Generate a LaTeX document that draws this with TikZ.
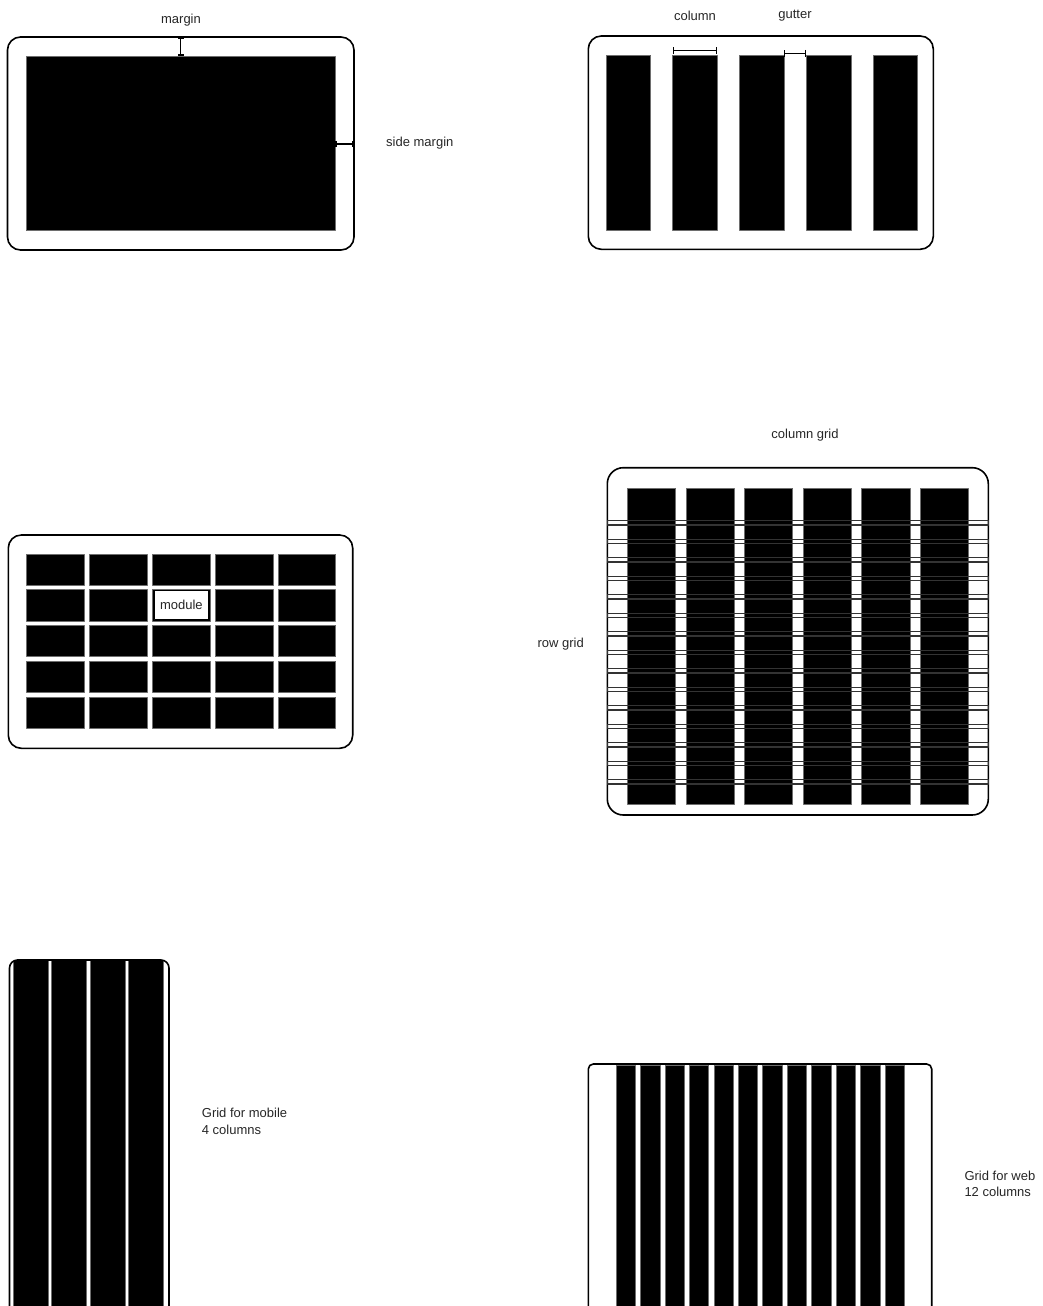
\documentclass[tikz,border=0pt]{standalone}
\usepackage{fontspec}
\setmainfont{Liberation Sans}
\usetikzlibrary{arrows.meta}
\definecolor{ink}{HTML}{262626}
\definecolor{rim}{HTML}{6e6e6e}
\definecolor{rowline}{HTML}{333333}

\begin{document}
\begin{tikzpicture}[
  x=1pt, y=-1pt,
  line join=round,
  every node/.style={font=\fontsize{13}{16.5}\selectfont, text=ink, inner sep=0pt},
  frame/.style={draw=black, line width=1.6pt},
  block/.style={fill=black, draw=rim, line width=0.5pt},
  rowgrid/.style={draw=rowline, line width=1.2pt},
  measure/.style={draw=black, line width=1.8pt, {Bar[width=6pt]}-{Bar[width=6pt]}},
  bracket/.style={draw=black, line width=1pt, {Bar[width=7pt]}-{Bar[width=7pt]}},
  cell/.style={fill=white, draw=black, line width=1.2pt, minimum width=54pt, minimum height=29pt},
  caption/.style={anchor=west, align=left},
]
\useasboundingbox (0,0) rectangle (1042,1306);
\clip (0,0) rectangle (1042,1306);

% margins
\draw[frame, rounded corners=13pt] (7.5,37) rectangle (354,250);
\fill[block] (26,56) rectangle (335.3,230.7);
\coordinate (mtop) at (180.5,37);
\coordinate (mbot) at (180.5,56);
\draw[measure] (mtop) -- (mbot);
\node (margin) at (181,20) {margin};
\coordinate (sin) at (335.3,144);
\coordinate (sout) at (354,144);
\draw[measure] (sin) -- (sout);
\node[anchor=west] (sidemargin) at (386,143) {side margin};

% columns and gutters
\draw[frame, rounded corners=13pt] (588.3,36) rectangle (933.3,249.3);
\foreach \i in {0,...,4}
  \fill[block] ({606+66.7*\i},55) rectangle ++(44.7,175);
\coordinate (cleft) at (672.7,50.7);
\coordinate (cright) at (717.3,50.7);
\draw[bracket] (cleft) -- (cright);
\coordinate (gleft) at (784,53.3);
\coordinate (gright) at (806,53.3);
\draw[bracket] (gleft) -- (gright);
\node (column) at (695,16) {column};
\node (gutter) at (795,16) {gutter};

% modules
\draw[frame, rounded corners=13pt] (8.3,535) rectangle (352.7,748.3);
\foreach \c in {0,...,4}
  \foreach \r in {0,...,4}
    \fill[block] ({26.7+62.9*\c},{554+35.7*\r}) rectangle ++(57.4,31.3);
\node[cell] (module) at (181.4,605) {module};

% column grid and row grid
\node (colgrid) at (805,435) {column grid};
\draw[frame, rounded corners=16pt] (607.3,467.7) rectangle (988.3,815);
\foreach \i in {0,...,5}
  \fill[block] ({627.3+58.54*\i},488.3) rectangle ++(48.3,315.7);
\foreach \k in {0,...,14}
  \draw[rowgrid] (607.3,{520.7+18.5*\k}) rectangle (988.3,{525+18.5*\k});
\node (rowgrid) at (560.7,644) {row grid};

% mobile
\begin{scope}
  \clip[rounded corners=8pt] (9.5,960) rectangle (169,1330);
  \foreach \i in {0,...,3}
    \fill[block] ({13.3+38.4*\i},958) rectangle ++(34.7,372);
\end{scope}
\draw[frame, rounded corners=8pt] (9.5,960) rectangle (169,1330);
\node[caption] (mobile) at (201.7,1121.5) {Grid for mobile\\4 columns};

% web
\draw[frame, rounded corners=5pt] (588.3,1064) rectangle (931.7,1330);
\foreach \i in {0,...,11}
  \fill[block] ({616+24.45*\i},1065) rectangle ++(19.3,265);
\node[caption] (web) at (964.3,1184) {Grid for web\\12 columns};
\end{tikzpicture}
\end{document}
